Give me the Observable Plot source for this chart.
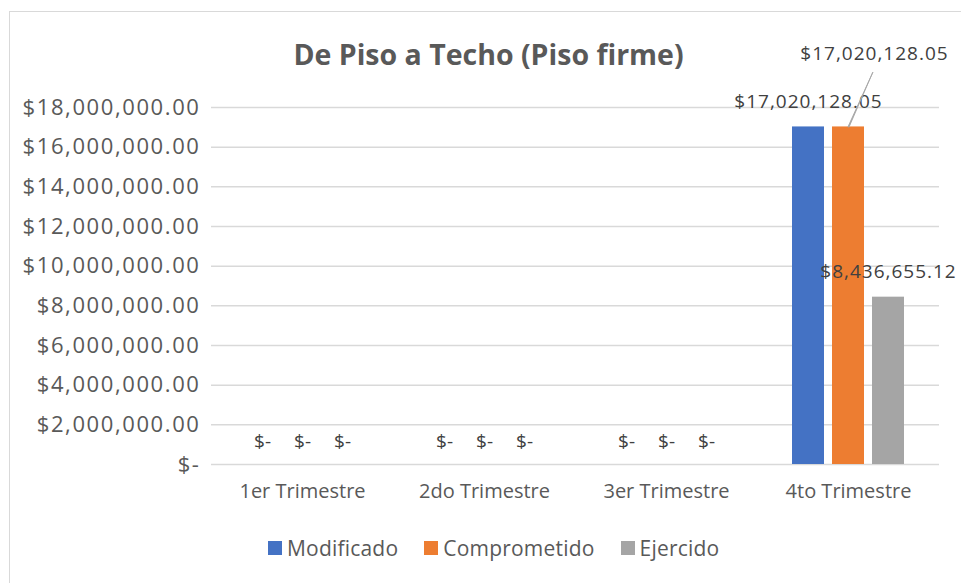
<!DOCTYPE html>
<html>
<head>
<meta charset="utf-8">
<script src="https://cdn.jsdelivr.net/npm/d3@7"></script>
<script src="https://cdn.jsdelivr.net/npm/@observablehq/plot@0.6"></script>
<style>
  html, body { margin: 0; padding: 0; background: #fff; }
  #wrap { position: relative; width: 961px; height: 583px; overflow: hidden; font-family: "Open Sans", sans-serif; }
  #border { position: absolute; left: 9px; top: 11px; width: 960px; height: 600px; border: 1.5px solid #d9d9d9; box-sizing: border-box; }
  #title { position: absolute; left: 0; top: 36px; width: 977px; text-align: center; font-size: 28.5px; font-weight: bold; color: #595959; line-height: 36px; }
  #chart { position: absolute; left: 0; top: 0; }
  #legend { position: absolute; top: 534px; left: 268px; display: flex; font-size: 21px; color: #595959; line-height: 28px; letter-spacing: 0.2px; }
  .item { display: flex; align-items: center; margin-right: 26px; }
  .sw { width: 14px; height: 14px; margin-right: 5px; display: inline-block; }
  #chart svg g[aria-label="y-axis tick label"] text { letter-spacing: 1.6px; font-size: 22px; }
  #chart svg g.vals text { letter-spacing: 1px; }
</style>
</head>
<body>
<div id="wrap">
  <div id="border"></div>
  <div id="chart"></div>
  <div id="title">De Piso a Techo (Piso firme)</div>
  <div id="legend"></div>
</div>
<script>
const categories = ["1er Trimestre", "2do Trimestre", "3er Trimestre", "4to Trimestre"];
const series = ["Modificado", "Comprometido", "Ejercido"];
const modificado = [0, 0, 0, 17020128.05];
const comprometido = [0, 0, 0, 17020128.05];
const ejercido = [0, 0, 0, 8436655.12];
const colors = ["#4472c4", "#ed7d31", "#a5a5a5"];
const yTicks = [0, 2e6, 4e6, 6e6, 8e6, 10e6, 12e6, 14e6, 16e6, 18e6];

const seriesValues = [modificado, comprometido, ejercido];
const data = [];
categories.forEach((c, i) => series.forEach((s, j) => data.push({cat: c, ser: s, val: seriesValues[j][i]})));

const money = v => v === 0 ? "$-" : "$" + d3.format(",.2f")(v);
const textColor = "#404040";

const zeros = data.filter(d => d.val === 0);
const normalLabels = data.filter(d => d.val !== 0 && !(d.ser === "Comprometido"));
const offsetLabels = data.filter(d => d.val !== 0 && d.ser === "Comprometido");

const chart = Plot.plot({
  width: 961,
  height: 583,
  marginLeft: 210,
  marginRight: 21,
  marginTop: 107,
  marginBottom: 119,
  style: {fontFamily: "'Open Sans', sans-serif", fontSize: "20px", color: "#595959", background: "transparent", overflow: "visible"},
  fx: {domain: categories, padding: 0, label: null, axis: "bottom", tickSize: 0, tickPadding: 19},
  x: {domain: series, paddingInner: 0.21, paddingOuter: 0.86, axis: null},
  y: {domain: [0, 18e6], ticks: yTicks, label: null, tickFormat: money, tickSize: 0, tickPadding: 11},
  color: {domain: series, range: colors},
  marks: [
    Plot.ruleY(yTicks, {stroke: "#d9d9d9", strokeWidth: 1.5, strokeOpacity: 1}),
    Plot.barY(data, {fx: "cat", x: "ser", y: "val", fill: "ser"}),
    Plot.text(zeros, {fx: "cat", x: "ser", y: "val", text: d => money(d.val), dy: -23, fill: textColor, fontSize: 19}),
    Plot.text(normalLabels, {fx: "cat", x: "ser", y: "val", text: d => money(d.val), dy: -25, fill: textColor, fontSize: 19, className: "vals"}),
    Plot.vector(offsetLabels, {fx: "cat", x: "ser", y: "val", length: 60, rotate: 24, anchor: "start", shape: "spike", r: 0.5, fill: "#a6a6a6", stroke: "#a6a6a6", strokeWidth: 0.8}),
    Plot.text(offsetLabels, {fx: "cat", x: "ser", y: "val", text: d => money(d.val), dy: -73, dx: 26, fill: textColor, fontSize: 19, className: "vals"})
  ]
});
document.getElementById("chart").appendChild(chart);

const legend = document.getElementById("legend");
series.forEach((s, i) => {
  const it = document.createElement("div");
  it.className = "item";
  it.innerHTML = `<span class="sw" style="background:${colors[i]}"></span><span>${s}</span>`;
  legend.appendChild(it);
});
</script>
</body>
</html>
